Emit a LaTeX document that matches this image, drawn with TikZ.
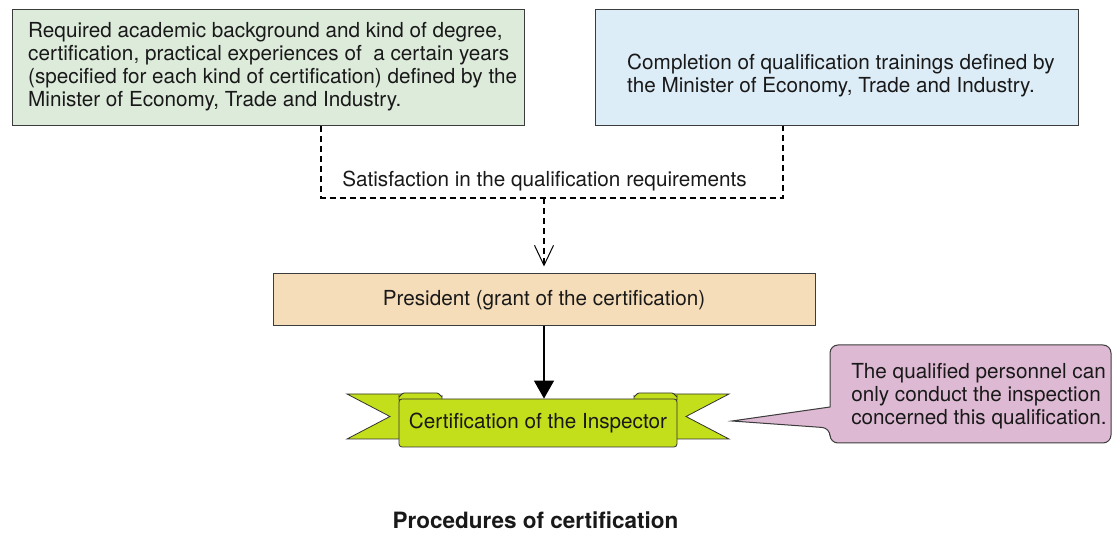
\documentclass[tikz,border=0pt]{standalone}
\usepackage{fontspec}
\setmainfont{TeX Gyre Heros}
\usetikzlibrary{arrows.meta}

\definecolor{reqgreen}{RGB}{221,235,219}
\definecolor{trainblue}{RGB}{221,237,247}
\definecolor{presorange}{RGB}{246,221,185}
\definecolor{ribbon}{RGB}{195,222,26}
\definecolor{notepink}{RGB}{222,185,211}
\definecolor{edge}{RGB}{60,60,60}

\begin{document}
\begin{tikzpicture}[x=1pt,y=-1pt,
    every node/.style={font=\fontsize{20.7}{23}\selectfont, text=black!90},
    box/.style={draw=edge, line width=1pt, inner sep=0pt},
    dashline/.style={line width=1.1pt, dash pattern=on 6pt off 4pt},
    ribbonpart/.style={draw=black!80, line width=0.8pt, fill=ribbon}]
            \useasboundingbox (0,0) rectangle (1112,537);

            % upper boxes
            \node[box, fill=reqgreen, minimum width=512pt, minimum height=116pt] (acad) at (268,68) {};
            \node[anchor=west, align=left, inner sep=0pt] (acadtext) at (28,67)
                {Required academic background and kind of degree,\\
                 certification, practical experiences of \ a certain years\\
                 (specified for each kind of certification) defined by the\\
                 Minister of Economy, Trade and Industry.};
            \node[box, fill=trainblue, minimum width=483pt, minimum height=116pt] (train) at (836.5,68) {};
            \node[anchor=west, align=left, inner sep=0pt] (traintext) at (627,76)
                {Completion of qualification trainings defined by\\
                 the Minister of Economy, Trade and Industry.};

            \node[box, fill=presorange, minimum width=542pt, minimum height=52pt] (pres) at (544,300)
                {President (grant of the certification)};

            % joining dashed lines
            \coordinate (jl) at (321,198);
            \coordinate (jr) at (783,198);
            \coordinate (jm) at (544,198);
            \draw[dashline] (acad.south -| jl) -- (jl) -- (jr) -- (train.south -| jr);
            \node (satis) at (544.5,181) {Satisfaction in the qualification requirements};
            \draw[dashline, -{Straight Barb[length=20pt,width=19pt,line width=1pt]}, shorten >=7pt]
                (jm) -- (pres);

            % ribbon
            \filldraw[ribbonpart] (347,394) -- (420,394) -- (420,439) -- (347,439) -- (390,416.5) -- cycle;
            \filldraw[ribbonpart] (729,394) -- (656,394) -- (656,439) -- (729,439) -- (686,416.5) -- cycle;
            \filldraw[ribbonpart] (399,400) -- (399,396) to[out=-90,in=180] (404,393) -- (437,393)
                to[out=0,in=-90] (442,396) -- (442,400) -- cycle;
            \filldraw[ribbonpart] (634,400) -- (634,396) to[out=-90,in=180] (639,393) -- (672,393)
                to[out=0,in=-90] (677,396) -- (677,400) -- cycle;
            \node[ribbonpart, rounded corners=3pt, minimum width=278pt, minimum height=48pt] (cert) at (538,423)
                {Certification of the Inspector};

            \draw[line width=1.2pt, -{Triangle[length=18pt,width=20pt]}] (pres.south) -- (pres.south |- cert.north);

            % note
            \coordinate (tip) at (732,421);
            \filldraw[draw=edge, line width=1pt, fill=notepink] (830,407) [rounded corners=8pt] -- (830,345)
                -- (1111,345) -- (1111,443) -- (830,443) -- (830,428) [sharp corners] -- (tip) -- cycle;
            \node[align=left] (note) at (979,396)
                {The qualified personnel can\\only conduct the inspection\\concerned this qualification.};

            \node[font=\fontsize{22.5}{26}\selectfont\bfseries] (title) at (535.5,520) {Procedures of certification};
        \end{tikzpicture}
\end{document}
